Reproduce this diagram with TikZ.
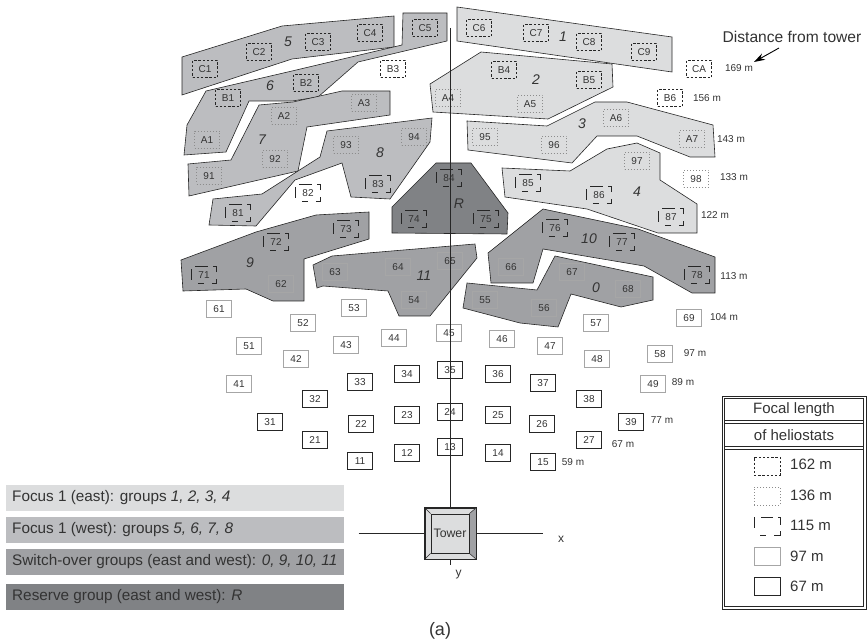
\documentclass[tikz,border=0pt]{standalone}
\usepackage{fontspec}
\setmainfont{Liberation Sans}
\usetikzlibrary{arrows.meta}
\definecolor{gE}{HTML}{DCDDDE}
\definecolor{gW}{HTML}{BCBDC0}
\definecolor{gS}{HTML}{A0A1A4}
\definecolor{gR}{HTML}{808285}
\definecolor{ink}{HTML}{333333}
\tikzset{
  zone/.style={draw=black!85,line width=0.6pt,line join=miter},
  zE/.style={zone,fill=gE}, zW/.style={zone,fill=gW}, zS/.style={zone,fill=gS}, zR/.style={zone,fill=gR},
  helio/.style={minimum width=25pt,minimum height=17pt,inner sep=0pt,text=ink,font=\fontsize{10}{10}\selectfont},
  hA/.style={helio,draw=black!85,line width=0.9pt,dash pattern=on 2.4pt off 1.8pt},
  hB/.style={helio,draw=black!45,line width=0.9pt,dash pattern=on 1pt off 2pt},
  hC/.style={helio,draw=black!85,line width=0.9pt,dash pattern=on 6pt off 8pt on 9.5pt off 6.5pt on 9.5pt off 5pt on 12.5pt off 6.5pt on 11pt off 9.5pt,dash phase=77.7pt},
  hD/.style={helio,draw=black!35,line width=0.9pt},
  hE/.style={helio,draw=black!85,line width=0.9pt},
  grp/.style={font=\fontsize{14}{14}\selectfont\itshape,text=ink,inner sep=0pt},
  dist/.style={font=\fontsize{10}{10}\selectfont,text=ink,inner sep=0pt},
  bartxt/.style={font=\fontsize{15.3}{16}\selectfont,text=ink,anchor=west,inner sep=0pt},
  legtxt/.style={font=\fontsize{15}{16}\selectfont,text=ink,inner sep=0pt},
  sample/.style={minimum width=26pt,minimum height=18pt,inner sep=0pt},
  axis/.style={draw=black!85,line width=0.7pt},
}
\begin{document}
\begin{tikzpicture}[x=1pt,y=-1pt]
\useasboundingbox (0,0) rectangle (868,644);
% zones west
\draw[zW] (182,57)--(282,26)--(394,16)--(394,47)--(292,59)--(182,95)--cycle;
\draw[zW] (403,13)--(447,13)--(447,41)--(358,62)--(318,97)--(292,101)--(249,101)--(226,152)--(184,155)--(187,125)--(206,91)--(292,71)--(402,45)--cycle;
\draw[zW] (259,105)--(293,102)--(342,91)--(390,91)--(390,115)--(307,127)--(298,171)--(189,196)--(188,164)--(231,160)--cycle;
\draw[zW] (327,131)--(432,118)--(430,142)--(390,199)--(351,197)--(342,163)--(295,180)--(256,226)--(209,225)--(213,199)--(262,194)--(298,171)--(320,157)--cycle;
% zones east
\draw[zE] (457,7)--(672,37)--(672,72)--(457,41)--cycle;
\draw[zE] (481,52)--(612,64)--(613,87)--(548,119)--(433,112)--(430,84)--cycle;
\draw[zE] (467,121)--(547,126)--(595,102)--(627,102)--(713,125)--(715,157)--(690,157)--(637,136)--(597,136)--(572,163)--(468,150)--cycle;
\draw[zE] (502,168)--(570,171)--(607,149)--(637,143)--(660,153)--(660,180)--(697,204)--(697,233)--(658,233)--(587,209)--(505,197)--cycle;
% reserve and switch-over
\draw[zR] (436,163)--(471,163)--(508,213)--(507,234)--(392,233)--(392,207)--cycle;
\draw[zS] (181,260)--(256,232)--(316,215)--(369,212)--(369,239)--(304,259)--(304,301)--(273,301)--(246,289)--(183,291)--cycle;
\draw[zS] (313,265)--(332,256)--(475,244)--(477,258)--(430,316)--(399,316)--(388,291)--(323,286)--(317,288)--cycle;
\draw[zS] (543,209)--(638,229)--(715,257)--(715,293)--(692,293)--(644,266)--(543,249)--(533,283)--(491,283)--(488,253)--cycle;
\draw[zS] (555,256)--(653,277)--(653,300)--(621,307)--(571,294)--(558,327)--(520,323)--(463,308)--(467,283)--(537,290)--cycle;
% group numbers
\foreach \n/\x/\y in {5/288/42,6/270/86,7/262/140,8/380/153,1/563/37,2/536/80,3/582/124,4/637/192,R/459/204,9/250/263,11/424/276,10/589/239,0/596/288}
  \node[grp] (g\n) at (\x,\y) {\n};
% heliostats
\foreach \n/\x/\y in {C1/205/69,C2/259/52,C3/318/42,C4/370/33,C5/425/28,B1/228/98,B2/306/83,B3/393/69,C6/479/28,C7/536/33,C8/589/42,C9/644/52,CA/699/69,B4/504/70,B5/589/80,B6/670/98}
  \node[hA] (n\n) at (\x,\y) {\n};
\foreach \n/\x/\y in {A1/207/140,A2/284/116,A3/364/103,A4/448/98,A5/530/104,A6/616/118,A7/692/139,91/209/176,92/275/159,93/346/145,94/414/137,95/485/137,96/554/145,97/637/161,98/696/179}
  \node[hB] (n\n) at (\x,\y) {\n};
\foreach \n/\x/\y in {81/238/213,82/308/193,83/378/184,84/449/178,85/528/183,86/599/195,87/671/217,71/204/275,72/276/242,73/346/229,74/414/219,75/486/219,76/555/228,77/622/242,78/697/275}
  \node[hC] (n\n) at (\x,\y) {\n};
\foreach \n/\x/\y in {61/219/309,62/281/284,63/335/272,64/398/267,65/450/261,66/511/267,67/572/272,68/628/289,69/689/318,51/249/346,52/303/323,53/354/308,54/414/300,55/485/300,56/544/308,57/596/323,58/660/354,41/239/384,42/296/359,43/346/345,44/394/338,45/449/333,46/502/339,47/550/346,48/597/359,49/653/384}
  \node[hD] (n\n) at (\x,\y) {\n};
\foreach \n/\x/\y in {31/270/422,32/315/399,33/360/382,34/407/374,35/450/370,36/498/374,37/543/383,38/589/399,39/631/422,21/315/440,22/361/424,23/407/415,24/450/412,25/498/415,26/542/424,27/589/440,11/360/461,12/407/453,13/450/447,14/498/453,15/543/462}
  \node[hE] (n\n) at (\x,\y) {\n};
% distance labels
\foreach \k/\t/\x/\y in {a/169 m/739/68,b/156 m/707/98,c/143 m/731/139,d/133 m/734/177,e/122 m/715/215,f/113 m/734/276,g/104 m/724/317,h/97 m/695/353,i/89 m/683/382,j/77 m/662/420,k/67 m/623/444,l/59 m/573/462}
  \node[dist] (d\k) at (\x,\y) {\t};
\node[font=\fontsize{15.6}{16}\selectfont,text=ink,inner sep=0pt] (dlabel) at (792,37) {Distance from tower};
\coordinate (arrowstart) at (779,48);
\coordinate (arrowend) at (754,62);
\draw[draw=black,line width=0.9pt,-{Stealth[length=11pt,width=7pt]}] (arrowstart) -- (arrowend);
% tower
\node[minimum width=51pt,minimum height=51pt,inner sep=0pt,draw=black!85,line width=0.8pt,fill=gE] (towerbase) at (450.5,533.5) {};
\fill[gS] (towerbase.north east) -- (towerbase.south east) -- (469,553) -- (469,514) -- cycle;
\node[minimum width=38pt,minimum height=39pt,inner sep=0pt,draw=black!85,line width=0.8pt,fill=gE,text=ink,font=\fontsize{12.3}{13}\selectfont] (tower) at (450,533.5) {Tower};
\draw[black!85,line width=0.5pt] (towerbase.north west) -- (tower.north west) (towerbase.north east) -- (tower.north east) (towerbase.south west) -- (tower.south west) (towerbase.south east) -- (tower.south east);
\draw[black!85,line width=0.8pt] (towerbase.north west) rectangle (towerbase.south east);
\coordinate (axT) at (450,28);
\coordinate (axB) at (450,565);
\coordinate (axL) at (358.5,533);
\coordinate (axR) at (543,533);
\draw[axis] (axT) -- (towerbase.north -| axT);
\draw[axis] (towerbase.south -| axB) -- (axB);
\draw[axis] (axL) -- (towerbase.west |- axL);
\draw[axis] (towerbase.east |- axR) -- (axR);
\node[font=\fontsize{12}{13}\selectfont,text=ink,inner sep=0pt] (xlab) at (561,539) {x};
\node[font=\fontsize{12}{13}\selectfont,text=ink,inner sep=0pt] (ylab) at (458.5,575) {y};
\node[font=\fontsize{18}{19}\selectfont,text=ink,inner sep=0pt] (cap) at (440,631) {(a)};
% colour key
\fill[gE] (6,485) rectangle (344,511);
\fill[gW] (6,517) rectangle (344,543);
\fill[gS] (6,549) rectangle (344,575);
\fill[gR] (6,584) rectangle (344,610);
\node[bartxt] (k1) at (12,498) {Focus 1 (east): groups \textit{1, 2, 3, 4}};
\node[bartxt] (k2) at (12,530) {Focus 1 (west): groups \textit{5, 6, 7, 8}};
\node[bartxt] (k3) at (12,562) {Switch-over groups (east and west): \textit{0, 9, 10, 11}};
\node[bartxt] (k4) at (12,597) {Reserve group (east and west): \textit{R}};
% focal length key
\draw[black!85,line width=0.8pt] (722,396) rectangle (866,609);
\draw[black!85,line width=0.8pt] (724.5,398.5) rectangle (863.5,606.5);
\draw[black!85,line width=0.8pt] (724.5,420) -- (863.5,420) (724.5,423) -- (863.5,423) (724.5,446) -- (863.5,446) (724.5,449) -- (863.5,449);
\node[legtxt] (f1) at (794,409.5) {Focal length};
\node[legtxt] (f2) at (794,435) {of heliostats};
\node[hA,sample] (sa) at (767,466) {};
\node[hB,sample] (sb) at (767,496) {};
\node[hC,sample] (sc) at (767,526) {};
\node[hD,sample] (sd) at (767,556) {};
\node[hE,sample] (se) at (767,586) {};
\foreach \k/\t/\y in {a/162 m/464.5,b/136 m/495,c/115 m/525.5,d/97 m/556,e/67 m/586}
  \node[legtxt,anchor=west] (t\k) at (790,\y) {\t};
\end{tikzpicture}
\end{document}
